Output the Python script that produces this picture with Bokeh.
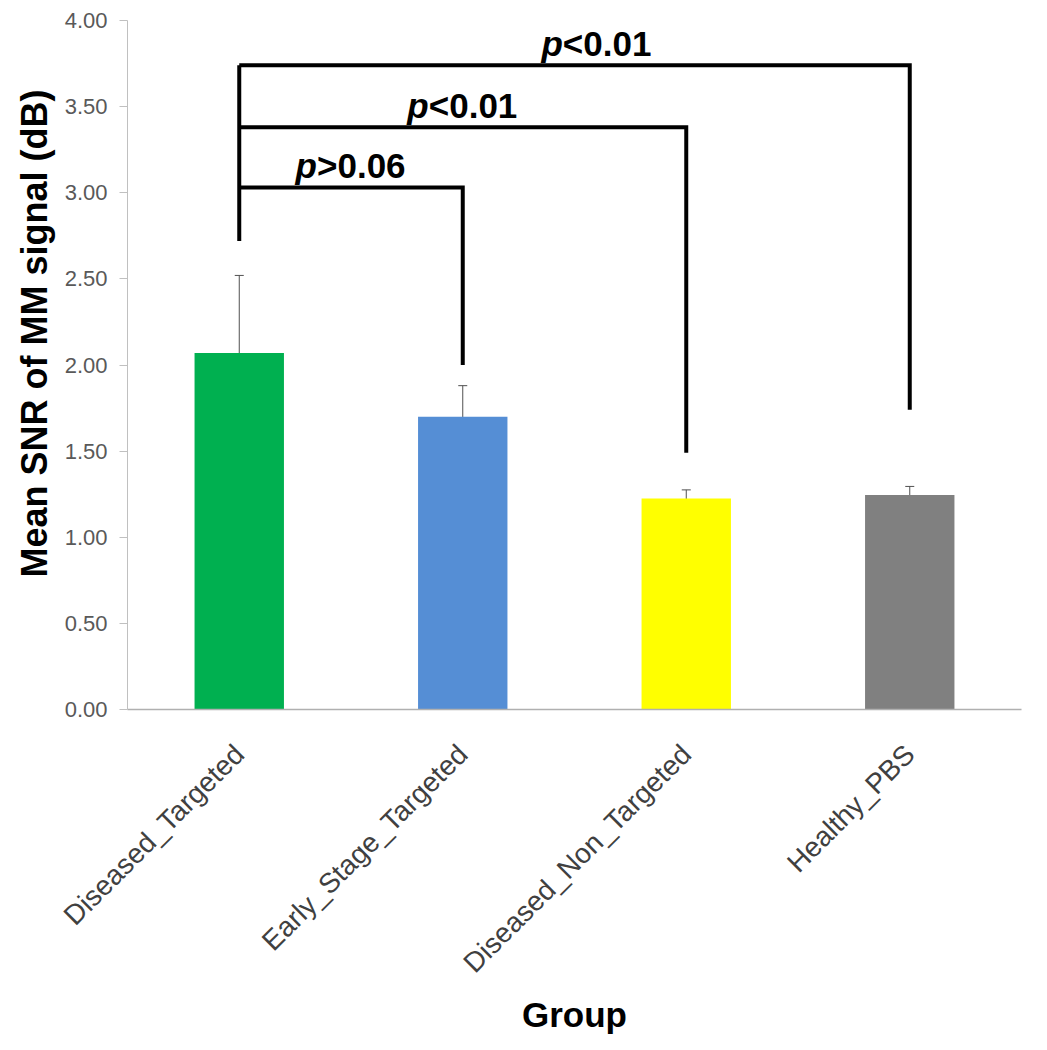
import math
from bokeh.plotting import figure
from bokeh.models import (FactorRange, Range1d, FixedTicker, NumeralTickFormatter,
                          Title, ColumnDataSource, Whisker, TeeHead)
from bokeh.core.properties import value
from bokeh.embed import file_html
from bokeh.resources import INLINE

# ---- data ----
groups = ["Diseased_Targeted", "Early_Stage_Targeted", "Diseased_Non_Targeted", "Healthy_PBS"]
means = [2.07, 1.70, 1.225, 1.245]
errors = [0.45, 0.18, 0.05, 0.05]
colors = ["#00B050", "#558ED5", "#FFFF00", "#808080"]

y_ticks = [0, 0.5, 1.0, 1.5, 2.0, 2.5, 3.0, 3.5, 4.0]

# significance brackets (all from Diseased_Targeted)
bracket_ref = "Diseased_Targeted"
bracket_ref_drop = 2.72
bracket_targets = ["Early_Stage_Targeted", "Diseased_Non_Targeted", "Healthy_PBS"]
bracket_heights = [3.03, 3.38, 3.74]
bracket_target_drops = [2.00, 1.49, 1.74]
bracket_ops = [">0.06", "<0.01", "<0.01"]
bracket_label_x = [1.0, 1.5, 2.1]   # label centres on the categorical axis

FONT = "Liberation Sans"

p = figure(x_range=FactorRange(*groups), y_range=Range1d(0, 4),
           frame_width=894, frame_height=689,
           min_border_left=127, min_border_right=26, min_border_top=20, min_border_bottom=341,
           output_backend="svg", toolbar_location=None)
p.outline_line_color = None
p.xgrid.grid_line_color = None
p.ygrid.grid_line_color = None

src = ColumnDataSource(dict(group=groups, mean=means, color=colors,
                            upper=[m + e for m, e in zip(means, errors)],
                            lower=[m - e for m, e in zip(means, errors)]))
p.vbar(x="group", top="mean", width=0.4, fill_color="color", line_color=None, source=src)

ecol = "#505050"
w = Whisker(base="group", upper="upper", lower="lower", source=src,
            line_color=ecol, line_width=1,
            upper_head=TeeHead(size=9, line_color=ecol, line_width=1),
            lower_head=TeeHead(size=9, line_color=ecol, line_width=1))
p.add_layout(w)

# brackets
xs, ys = [], []
for t, h, d in zip(bracket_targets, bracket_heights, bracket_target_drops):
    xs.append([bracket_ref, t, t])
    ys.append([h, h, d])
xs.append([bracket_ref, bracket_ref])
ys.append([bracket_ref_drop, max(bracket_heights)])
p.multi_line(xs=xs, ys=ys, line_color="black", line_width=4, line_join="miter")

# p labels
ly = [h + 0.015 for h in bracket_heights]
p.text(x=bracket_label_x, y=ly, text=["p"] * 3, text_align="right", text_baseline="bottom",
       x_offset=-34, text_font=value(FONT), text_font_size="35px",
       text_font_style="bold italic", text_color="black")
p.text(x=bracket_label_x, y=ly, text=bracket_ops, text_align="left", text_baseline="bottom",
       x_offset=-34, text_font=value(FONT), text_font_size="35px",
       text_font_style="bold", text_color="black")

# axes
p.yaxis.ticker = FixedTicker(ticks=y_ticks)
p.yaxis.formatter = NumeralTickFormatter(format="0.00")
p.yaxis.axis_line_color = "#c0c0c0"
p.yaxis.major_tick_line_color = "#c0c0c0"
p.yaxis.major_tick_out = 8
p.yaxis.major_tick_in = 0
p.yaxis.minor_tick_line_color = None
p.yaxis.major_label_text_font = FONT
p.yaxis.major_label_text_font_size = "22px"
p.yaxis.major_label_text_color = "#595959"
p.yaxis.major_label_standoff = 12

p.xaxis.axis_line_color = "#b0b0b0"
p.xaxis.axis_line_width = 1.5
p.xaxis.major_tick_line_color = None
p.xaxis.major_label_orientation = math.pi / 4
p.xaxis.major_label_text_font = FONT
p.xaxis.major_label_text_font_size = "28px"
p.xaxis.major_label_text_color = "#404040"
p.xaxis.major_label_standoff = 34

p.xaxis.axis_label = "Group"
p.xaxis.axis_label_text_font = FONT
p.xaxis.axis_label_text_font_size = "35px"
p.xaxis.axis_label_text_font_style = "bold"
p.xaxis.axis_label_text_color = "black"
p.xaxis.axis_label_standoff = 3

ytitle = Title(text="Mean SNR of MM signal (dB)", align="left", offset=132,
               text_font=FONT, text_font_size="36px", text_font_style="bold",
               text_color="black", standoff=14)
p.add_layout(ytitle, "left")

open("out.html", "w").write(file_html(p, INLINE))
